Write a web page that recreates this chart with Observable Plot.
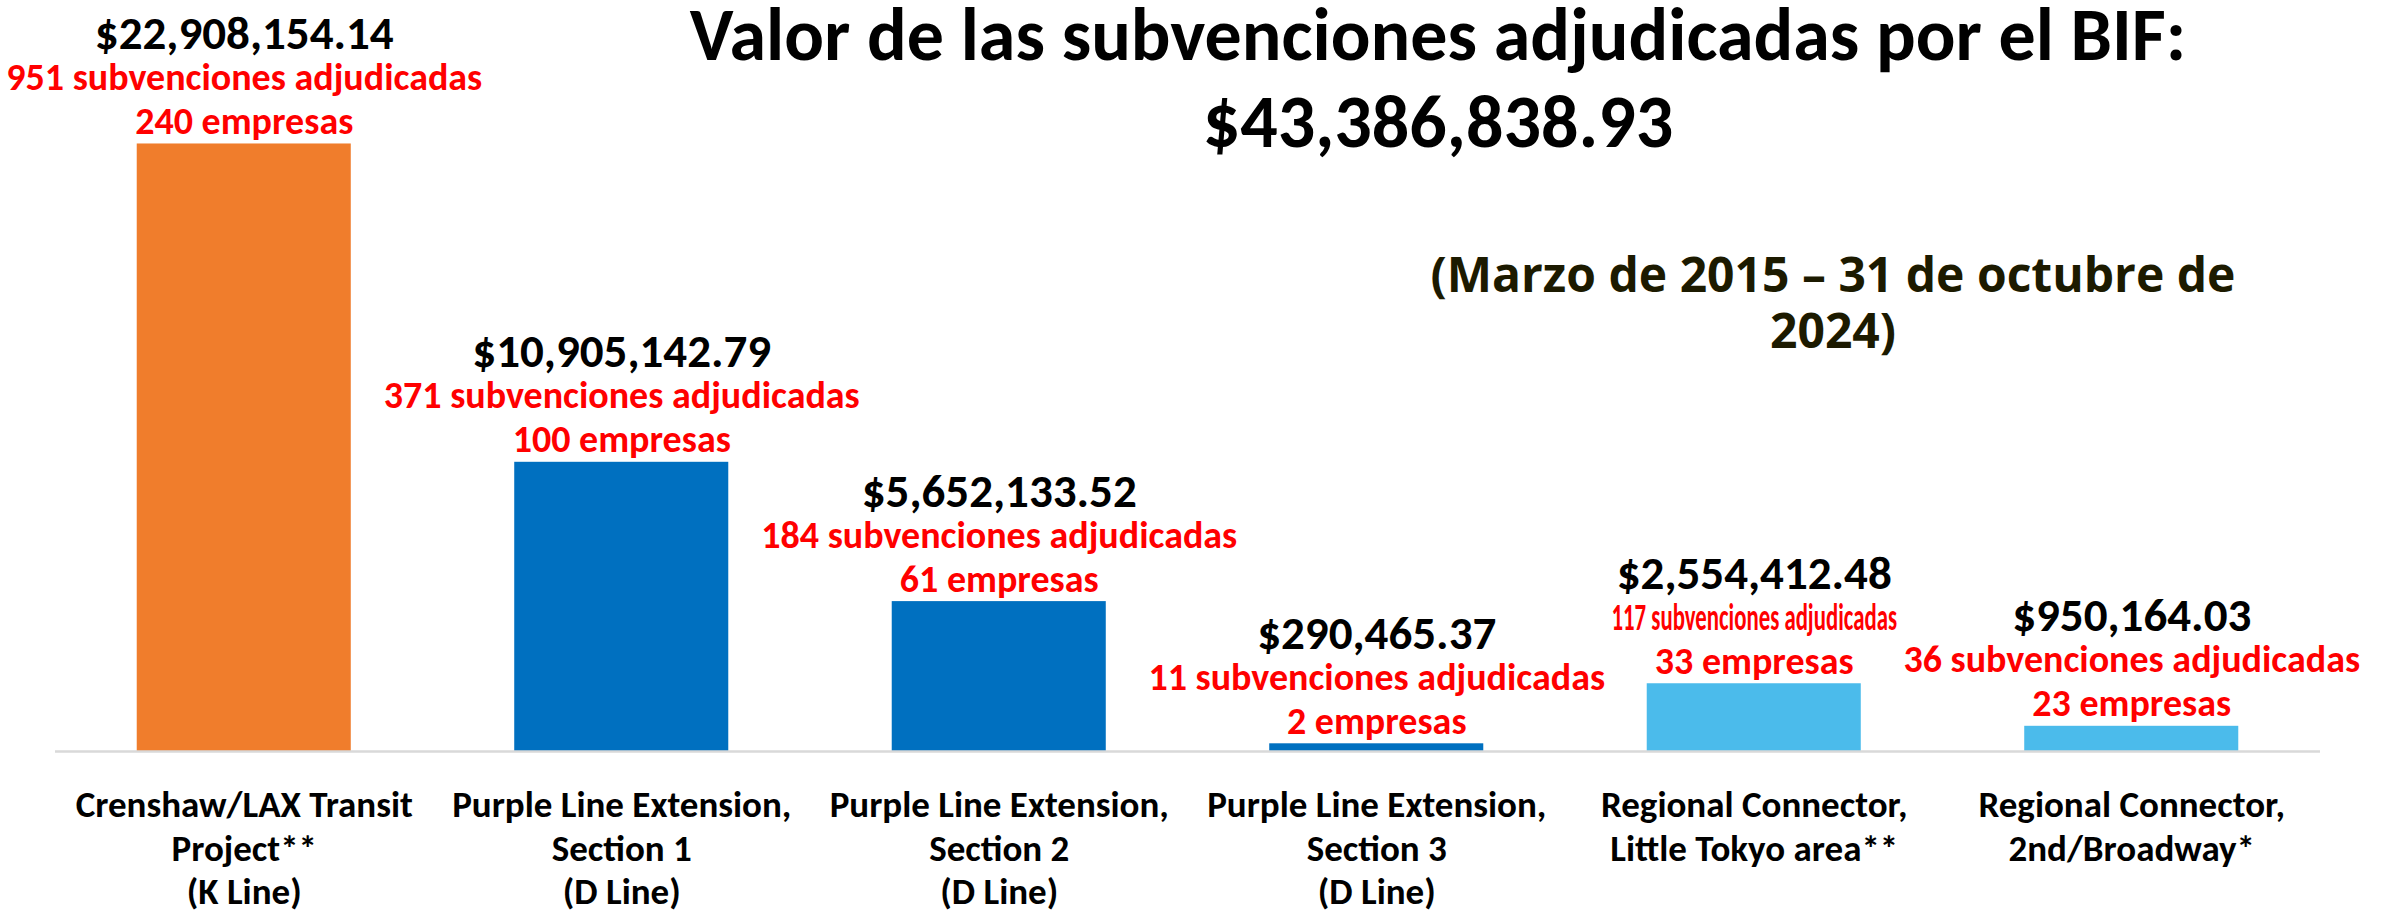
<!DOCTYPE html>
<html>
<head>
<meta charset="utf-8">
<script src="https://cdn.jsdelivr.net/npm/d3@7"></script>
<script src="https://cdn.jsdelivr.net/npm/@observablehq/plot@0.6"></script>
<style>
  html, body { margin: 0; padding: 0; background: #fff; }
  #chart svg text { font-weight: bold; }
</style>
</head>
<body>
<div id="chart"></div>
<script>
const projects = [
  "Crenshaw/LAX Transit\nProject**\n(K Line)",
  "Purple Line Extension,\nSection 1\n(D Line)",
  "Purple Line Extension,\nSection 2\n(D Line)",
  "Purple Line Extension,\nSection 3\n(D Line)",
  "Regional Connector,\nLittle Tokyo area**",
  "Regional Connector,\n2nd/Broadway*"
];
const values = [22908154.14, 10905142.79, 5652133.52, 290465.37, 2554412.48, 950164.03];
const grants = [951, 371, 184, 11, 117, 36];
const firms = [240, 100, 61, 2, 33, 23];
const groups = ["K Line", "D Line", "D Line", "D Line", "Regional Connector", "Regional Connector"];
const title1 = "Valor de las subvenciones adjudicadas por el BIF:";
const title2 = "$43,386,838.93";
const sub1 = "(Marzo de 2015 – 31 de octubre de";
const sub2 = "2024)";

const data = projects.map((p, i) => ({
  project: p, value: values[i], grants: grants[i], firms: firms[i], group: groups[i]
}));
const fmt = d3.format("$,.2f");
const FONT = "Carlito, 'Liberation Sans', sans-serif";
// the label that Excel squeezed horizontally to fit between its neighbours
const squeezedProject = "Regional Connector,\nLittle Tokyo area**";

const chart = Plot.plot({
  width: 2384,
  height: 911,
  marginLeft: 55,
  marginRight: 64,
  marginTop: 88,
  marginBottom: 160,
  style: { fontFamily: FONT, background: "#fff" },
  x: { domain: projects, paddingInner: 0.433, paddingOuter: 0.2165, round: false, label: null },
  y: { domain: [0, 25e6], axis: null },
  color: { domain: ["K Line", "D Line", "Regional Connector"], range: ["#F07D2C", "#0070C0", "#4BBBEB"] },
  marks: [
    Plot.barY(data, { x: "project", y: "value", fill: "group" }),
    Plot.ruleY([0], { stroke: "#d9d9d9", strokeWidth: 2.5 }),
    Plot.axisX({ tickSize: 0, tickPadding: 35, fontSize: 37, lineHeight: 1.17, fill: "#000", lineAnchor: "top", fontWeight: "bold" }),
    Plot.text(data, { x: "project", y: "value", text: d => fmt(d.value), dy: -95, lineAnchor: "bottom", fontSize: 47, fill: "#000", fontWeight: "bold" }),
    Plot.text(data, { x: "project", y: "value", text: d => `${d.grants} subvenciones adjudicadas`, dy: -54, lineAnchor: "bottom",
      fontSize: 38, fill: "#ff0000", fontWeight: "bold", className: "grant-label" }),
    Plot.text(data, { x: "project", y: "value", text: d => `${d.firms} empresas`, dy: -10, lineAnchor: "bottom", fontSize: 38, fill: "#ff0000", fontWeight: "bold" }),
    Plot.text([title1], { frameAnchor: "top", text: d => d, dx: 250, dy: -29, lineAnchor: "bottom", fontSize: 74, fill: "#000", fontWeight: "bold" }),
    Plot.text([title2], { frameAnchor: "top", text: d => d, dx: 250, dy: 58, lineAnchor: "bottom", fontSize: 74, fill: "#000", fontWeight: "bold" }),
    Plot.text([sub1], { frameAnchor: "top", text: d => d, dx: 645, dy: 203, lineAnchor: "bottom", fontSize: 48, fill: "#1c1a00", fontWeight: "bold", fontFamily: "'Open Sans', sans-serif" }),
    Plot.text([sub2], { frameAnchor: "top", text: d => d, dx: 645, dy: 259, lineAnchor: "bottom", fontSize: 48, fill: "#1c1a00", fontWeight: "bold", fontFamily: "'Open Sans', sans-serif" })
  ]
});
// squeeze the one grant label horizontally, as in the original chart
d3.select(chart).selectAll("g.grant-label text, .grant-label text").each(function(i) {
  const el = d3.select(this);
  const d = data[el.datum()];
  if (d && d.project === squeezedProject) {
    const t = el.attr("transform") || "";
    el.attr("transform", t + " scale(0.6,1)");
  }
});
document.getElementById("chart").appendChild(chart);
</script>
</body>
</html>
